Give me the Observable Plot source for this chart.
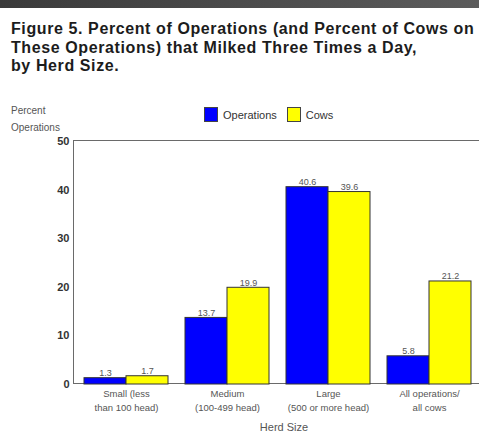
<!DOCTYPE html>
<html>
<head>
<meta charset="utf-8">
<script src="https://cdn.jsdelivr.net/npm/d3@7"></script>
<script src="https://cdn.jsdelivr.net/npm/@observablehq/plot@0.6"></script>
<style>
  html, body { margin: 0; padding: 0; background: #fff; overflow: hidden; }
  #wrap { position: relative; width: 479px; height: 438px; overflow: hidden; font-family: "Liberation Sans", Arial, sans-serif; }
  #topbar { position: absolute; left: 0; top: 0; width: 479px; height: 8px; background: linear-gradient(to right, #3a3a3a, #5c5c5c); }
  #title { position: absolute; left: 11px; top: 20px; font-size: 16px; letter-spacing: 0.6px; font-weight: bold; line-height: 18.5px; color: #1c1c1c; white-space: nowrap; }
  #ylab { position: absolute; left: 11px; top: 102px; font-size: 10px; line-height: 17px; color: #555; }
  #legend { position: absolute; left: 204px; top: 107px; font-size: 11px; color: #333; display: flex; align-items: center; }
  .sw { width: 12px; height: 13px; border: 1px solid #444; display: inline-block; margin-right: 5px; }
  .item { display: flex; align-items: center; margin-right: 10px; }
  #xlab { position: absolute; left: 0; width: 568px; text-align: center; top: 421px; font-size: 11px; color: #555; }
  #plotframe { position: absolute; left: 73px; top: 140px; width: 420px; height: 242px; border-top: 1.5px solid #6a6a6a; border-left: 1.5px solid #6a6a6a; border-bottom: 1.5px solid #6a6a6a; }
  svg { position: absolute; left: 0; top: 0; }
</style>
</head>
<body>
<div id="wrap">
  <div id="topbar"></div>
  <div id="title">Figure 5. Percent of Operations (and Percent of Cows on<br>These Operations) that Milked Three Times a Day,<br>by Herd Size.</div>
  <div id="ylab">Percent<br>Operations</div>
  <div id="legend"></div>
  <div id="xlab">Herd Size</div>
  <div id="plotframe"></div>
</div>
<script>
const groups = ["Small (less\nthan 100 head)", "Medium\n(100-499 head)", "Large\n(500 or more head)", "All operations/\nall cows"];
const series = ["Operations", "Cows"];
const colors = ["#0000ff", "#ffff00"];
const operations = [1.3, 13.7, 40.6, 5.8];
const cows = [1.7, 19.9, 39.6, 21.2];
const yTicks = [0, 10, 20, 30, 40, 50];

const data = [];
groups.forEach((g, i) => {
  data.push({group: g, series: "Operations", value: operations[i]});
  data.push({group: g, series: "Cows", value: cows[i]});
});

const legend = document.getElementById("legend");
series.forEach((s, i) => {
  const it = document.createElement("span");
  it.className = "item";
  it.innerHTML = `<span class="sw" style="background:${colors[i]}"></span>${s}`;
  legend.appendChild(it);
});

const chart = Plot.plot({
  width: 479,
  height: 438,
  marginTop: 141,
  marginBottom: 54,
  marginLeft: 74,
  marginRight: -1,
  style: {background: "transparent", fontFamily: "Liberation Sans, Arial, sans-serif", overflow: "visible"},
  fx: {domain: groups, paddingInner: 0.17, paddingOuter: 0.09, axis: null, label: null},
  x: {domain: series, padding: 0, axis: null},
  y: {domain: [0, 50], axis: null},
  color: {domain: series, range: colors},
  marks: [
    Plot.axisY(yTicks, {tickSize: 0, tickPadding: 15, fontWeight: "bold", fontSize: 11, fill: "#333", label: null}),
    Plot.axisFx({anchor: "bottom", tickSize: 0, tickPadding: 2, fontSize: 9.5, lineHeight: 1.5, fill: "#555", label: null}),
    Plot.barY(data, {fx: "group", x: "series", y: "value", fill: "series", stroke: "#333", strokeWidth: 1}),
    Plot.text(data, {fx: "group", x: "series", y: "value", text: d => d.value.toFixed(1), lineAnchor: "bottom", dy: -2, fontSize: 9, fill: "#555"})
  ]
});
document.getElementById("wrap").appendChild(chart);
</script>
</body>
</html>
